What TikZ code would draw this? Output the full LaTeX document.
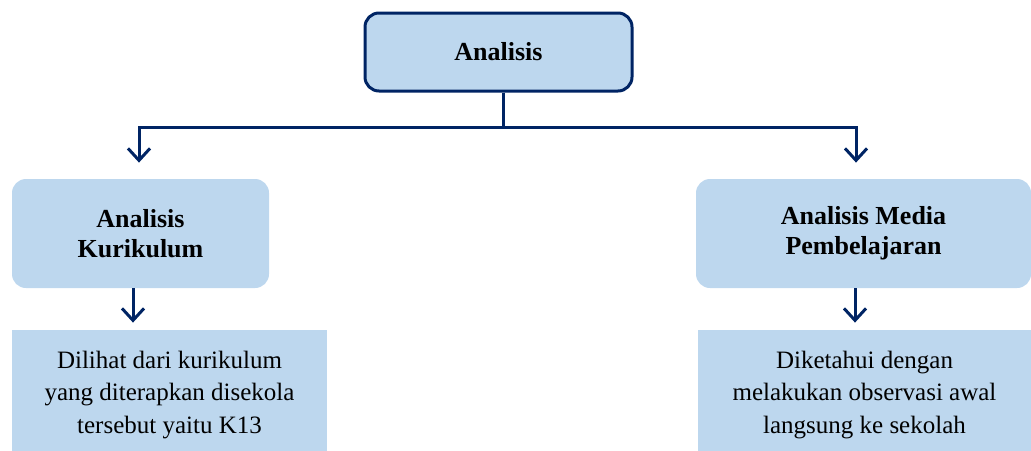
\documentclass[tikz,border=0pt]{standalone}
\usepackage{fontspec}
\setmainfont{Liberation Serif}
\usepackage{xcolor}
\usetikzlibrary{arrows.meta,positioning}

\definecolor{navy}{RGB}{0,36,100}
\definecolor{paleblue}{RGB}{189,215,238}

\begin{document}
\begin{tikzpicture}[
    x=0.5pt, y=-0.5pt,
    >={Straight Barb[length=6pt,width=11pt]},
    rootbox/.style={draw=navy, line width=1.5pt, fill=paleblue, rounded corners=7pt, minimum width=133.5pt, minimum height=39pt, font=\fontsize{13}{15}\selectfont\bfseries},
    topicbox/.style={fill=paleblue, rounded corners=7pt, align=center, minimum height=54.5pt, inner sep=2pt, font=\fontsize{13}{15}\selectfont\bfseries},
    notebox/.style={fill=paleblue, align=center, minimum height=65pt, inner sep=2pt, font=\fontsize{12.5}{16.25}\selectfont},
    line/.style={->, draw=navy, line width=1.5pt}
]
\useasboundingbox (0,0) rectangle (1031,450);

% Root of the analysis.
\node[rootbox] (analisis) at (498.5,52) {Analisis};

% Two branches of the analysis.
\node[topicbox, minimum width=128.5pt] (kurikulum) at (140.5,233.5) {Analisis\\Kurikulum};
\node[topicbox, minimum width=167.5pt] (media) at (863.5,233.5) {Analisis Media\\Pembelajaran};

% Findings under each branch (boxes run off the bottom edge).
\node[notebox, minimum width=157.5pt] (kurNote) at (169.5,395) {Dilihat dari kurikulum\\yang diterapkan disekola\\tersebut yaitu K13};
\node[notebox, minimum width=166.5pt] (mediaNote) at (864.5,395) {Diketahui dengan\\melakukan observasi awal\\langsung ke sekolah};

\coordinate (bus) at (503,127);

% Root splits into both branches.
\draw[line, shorten >=8pt] ([xshift=2.25pt]analisis.south) -- (bus) -| ([xshift=-0.75pt]kurikulum.north);
\draw[line, shorten >=8pt] ([xshift=2.25pt]analisis.south) -- (bus) -| ([xshift=-3.75pt]media.north);

% Each branch leads to its finding.
\draw[line, shorten >=3.5pt] ([xshift=-3.75pt]kurikulum.south) -- ([xshift=-3.75pt]kurikulum.south |- kurNote.north);
\draw[line, shorten >=3.5pt] ([xshift=-4.25pt]media.south) -- ([xshift=-4.25pt]media.south |- mediaNote.north);

\end{tikzpicture}
\end{document}
